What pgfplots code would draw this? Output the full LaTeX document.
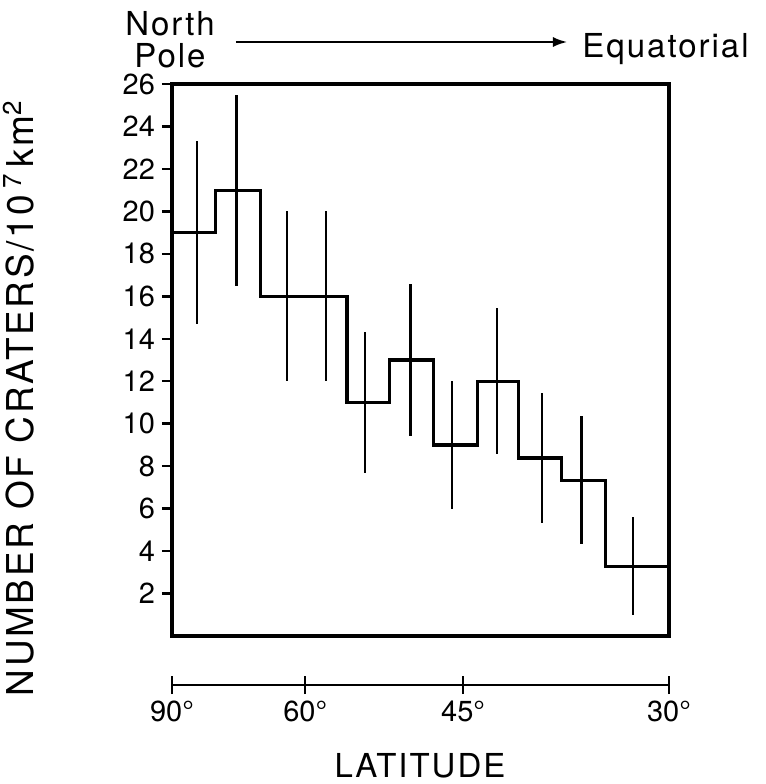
\documentclass[border=0pt]{standalone}
\usepackage{fontspec}
\setmainfont{TeX Gyre Heros}
\usepackage{pgfplots}
\pgfplotsset{compat=1.18}
\usetikzlibrary{arrows.meta}

% one pixel of the reference = 0.5pt
\newcommand{\ticklab}{\fontsize{14.5pt}{16pt}\selectfont}
\newcommand{\biglab}{\fontsize{16.5pt}{19pt}\selectfont\addfontfeatures{LetterSpace=6}}
\newcommand{\ylab}{\fontsize{18.5pt}{21pt}\selectfont\addfontfeatures{LetterSpace=7}}

% bin-centre positions in sin(latitude), step value, half error
\pgfplotstableread{
x     y     e
0.975 19    4.3
0.935 21    4.5
0.884 16    4.0
0.845 16    4.0
0.806 11    3.3
0.760 13    3.6
0.718 9     3.0
0.673 12    3.45
0.628 8.38  3.05
0.588 7.34  3.0
0.536 3.29  2.3
}\errdata

\begin{document}
\begin{tikzpicture}
\useasboundingbox (-86pt,-74pt) rectangle (297pt,318pt);

\begin{axis}[
  at={(0,0)}, anchor=south west,
  scale only axis, width=248.5pt, height=276pt,
  xmin=0.5, xmax=1, x dir=reverse,
  ymin=0, ymax=26,
  xtick=\empty,
  ytick={2,4,...,26},
  ytick pos=left,
  tick align=outside,
  major tick length=5pt,
  axis line style={line width=1.7pt},
  every tick/.style={black, line width=1.2pt},
  yticklabel style={font=\ticklab, /pgf/number format/assume math mode=true},
  clip=false,
]
% crater counts per latitude bin (sin latitude on x)
\addplot[const plot, black, line width=1.6pt] coordinates {
  (1.000,19) (0.956,21) (0.911,16) (0.824,11) (0.781,13) (0.737,9)
  (0.693,12) (0.651,8.38) (0.608,7.34) (0.564,3.29) (0.500,3.29)};
\addplot[draw=none, forget plot,
  error bars/.cd, y dir=both, y explicit, error mark=none,
  error bar style={draw=black, solid, line width=1.2pt}]
  table[x=x, y=y, y error=e] {\errdata};
\end{axis}

% latitude scale below the box
\begin{axis}[
  at={(0,-24.5pt)}, anchor=south west,
  scale only axis, width=248.5pt, height=10pt,
  xmin=0.5, xmax=1, x dir=reverse, ymin=0, ymax=1,
  hide y axis, axis x line*=bottom,
  axis line style={line width=1.2pt, -},
  xtick={1,0.8660,0.7071,0.5},
  xticklabels={90°,60°,45°,30°},
  tick align=center, major tick length=9pt,
  every tick/.style={black, line width=1.2pt},
  xticklabel style={font=\ticklab},
]
\addplot[draw=none] coordinates {(0.5,0) (1,1)};
\end{axis}

\node[anchor=base, font=\biglab] at (-1pt,300.5pt) {North};
\node[anchor=base, font=\biglab] at (-1pt,284.5pt) {Pole};
\draw[line width=0.9pt, -{Latex[length=7pt,width=5pt]}] (32pt,297pt) -- (197.5pt,297pt);
\node[anchor=base west, inner sep=0pt, font=\biglab] at (205pt,289.5pt) {Equatorial};
\node[anchor=base, inner sep=0pt, font=\biglab] at (124pt,-70.5pt) {LATITUDE};
\node[anchor=base, rotate=90, inner sep=0pt, font=\ylab] at (-69pt,119pt)
  {NUMBER OF CRATERS/10\,\textsuperscript{7}\,km\textsuperscript{2}};
\end{tikzpicture}
\end{document}
